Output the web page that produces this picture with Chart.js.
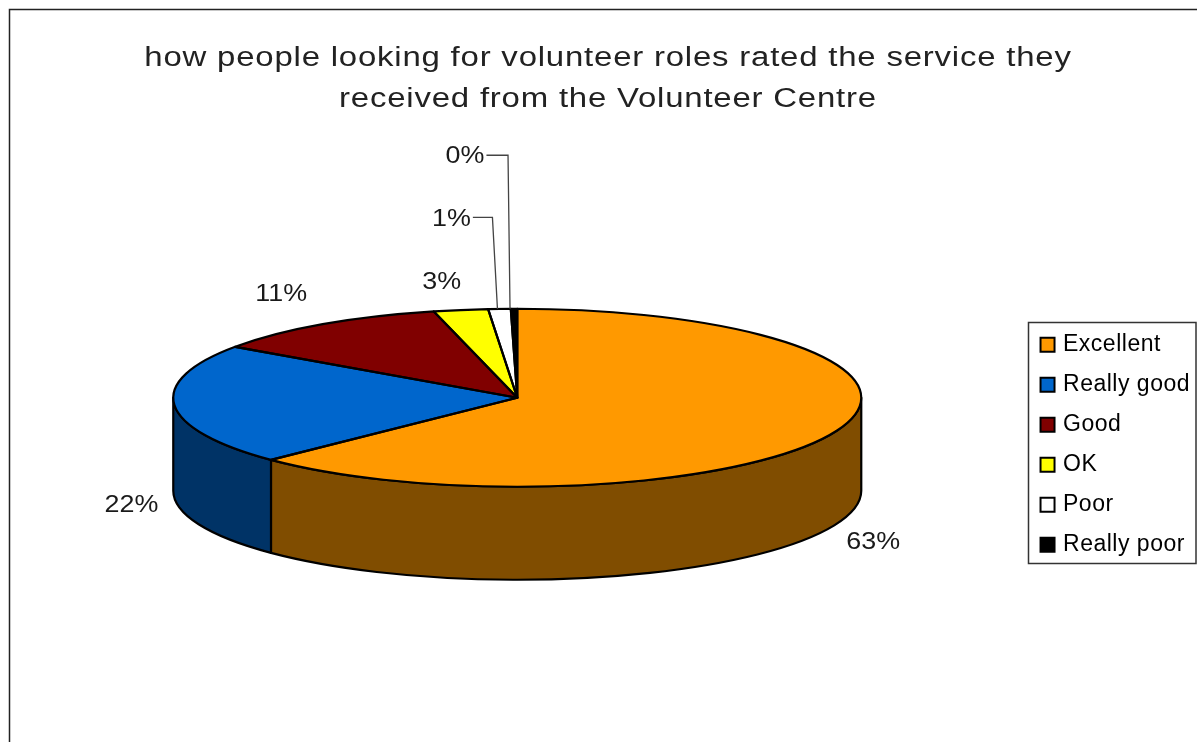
<!DOCTYPE html>
<html>
<head>
<meta charset="utf-8">
<style>
  html, body { margin: 0; background: #fff; overflow: hidden; }
  canvas { display: block; }
</style>
<script src="https://cdn.jsdelivr.net/npm/chart.js@4/dist/chart.umd.min.js"></script>
</head>
<body>
<canvas id="chart" width="1197" height="742"></canvas>
<script>
const titleLines = [
  'how people looking for volunteer roles rated the service they',
  'received from the Volunteer Centre'
];
const categories = ['Excellent', 'Really good', 'Good', 'OK', 'Poor', 'Really poor'];
const shares = [62.7, 22.0, 11.4, 2.55, 1.05, 0.3];
const topColors = ['#FF9900', '#0066CC', '#800000', '#FFFF00', '#FFFFFF', '#000000'];
const wallColors = ['#804D00', '#003366', '#400000', '#808000', '#808080', '#000000'];

// Label offsets from the rim point at the middle of each slice, in pixels.
const labelOffsets = [[39, 110], [-43, 100], [-41, -30], [-19, -28], [-48, -90], [-49, -152]];
// Slices whose labels sit far from the rim get an elbow leader: [rim dx, elbow dx].
const leaders = [null, null, null, null, [-2, -5], [-4, -2]];

const FONT = '"Liberation Sans", Arial, sans-serif';
const TILT = 0.2587;      // vertical squash of the pie disc
const DEPTH = 93;         // height of the extruded wall
const LIFT = -45;         // disc centre relative to the middle of the chart area
const OUTLINE = 2.2;
const TITLE_CENTRE = 608; // the title is centred on the full frame, which runs past the page

function discCentre(arc) {
  return { x: arc.x, y: arc.y + LIFT };
}

function rimPoint(arc, angle) {
  const c = discCentre(arc);
  return {
    x: c.x + arc.outerRadius * Math.cos(angle),
    y: c.y + arc.outerRadius * TILT * Math.sin(angle)
  };
}

// Wraps a layout box's draw so its text can have its own tracking and stretch.
function styleBoxDraw(box, apply) {
  const draw = box.draw;
  box.draw = function (area) {
    const ctx = this.ctx;
    ctx.save();
    apply(ctx, this);
    draw.call(this, area);
    ctx.restore();
  };
}

const pie3d = {
  id: 'pie3d',
  afterLayout(chart) {
    if (chart.$textStyled) return;
    chart.$textStyled = true;
    styleBoxDraw(chart.titleBlock, (ctx, box) => {
      ctx.translate(TITLE_CENTRE, 0);
      ctx.scale(1.22, 1);
      ctx.translate(-(box.left + box.right) / 2, 0);
      ctx.letterSpacing = '0.65px';
    });
    styleBoxDraw(chart.legend, ctx => {
      ctx.translate(-2.5, 2);
      ctx.letterSpacing = '0.5px';
    });
  },
  beforeDraw(chart) {
    // Outer chart frame runs off the right and bottom of the page.
    const ctx = chart.ctx;
    ctx.save();
    ctx.strokeStyle = '#222';
    ctx.lineWidth = 1.5;
    ctx.strokeRect(9.5, 9.5, chart.width + 40, chart.height + 40);
    ctx.restore();
  },
  beforeDatasetsDraw(chart) {
    const ctx = chart.ctx;
    const arcs = chart.getDatasetMeta(0).data;
    ctx.save();

    // Walls: only the part of each slice facing the viewer.
    ctx.lineWidth = OUTLINE;
    ctx.strokeStyle = '#000';
    ctx.lineJoin = 'round';
    arcs.forEach((arc, i) => {
      const a0 = Math.max(arc.startAngle, 0);
      const a1 = Math.min(arc.endAngle, Math.PI);
      if (a1 <= a0) return;
      const c = discCentre(arc);
      const rx = arc.outerRadius, ry = rx * TILT;
      ctx.beginPath();
      ctx.ellipse(c.x, c.y, rx, ry, 0, a0, a1);
      ctx.ellipse(c.x, c.y + DEPTH, rx, ry, 0, a1, a0, true);
      ctx.closePath();
      ctx.fillStyle = wallColors[i];
      ctx.fill();
      ctx.stroke();
    });

    // The library draws the slices as circles; flatten them into the disc.
    const cy = arcs[0].y;
    ctx.translate(0, cy + LIFT);
    ctx.scale(1, TILT);
    ctx.translate(0, -cy);
  },
  afterDatasetsDraw(chart) {
    const ctx = chart.ctx;
    ctx.restore();
    const arcs = chart.getDatasetMeta(0).data;
    const total = shares.reduce((a, b) => a + b, 0);

    // Slice outlines keep an even width, so they are stroked outside the squash.
    ctx.save();
    ctx.lineWidth = OUTLINE;
    ctx.strokeStyle = '#000';
    ctx.lineJoin = 'round';
    arcs.forEach(arc => {
      const c = discCentre(arc);
      ctx.beginPath();
      ctx.moveTo(c.x, c.y);
      ctx.ellipse(c.x, c.y, arc.outerRadius, arc.outerRadius * TILT, 0, arc.startAngle, arc.endAngle);
      ctx.closePath();
      ctx.stroke();
    });
    ctx.restore();

    // Percentage labels and leader lines.
    ctx.save();
    ctx.font = '24px ' + FONT;
    ctx.fillStyle = '#1a1a1a';
    ctx.textAlign = 'center';
    ctx.textBaseline = 'middle';
    arcs.forEach((arc, i) => {
      const rim = rimPoint(arc, (arc.startAngle + arc.endAngle) / 2);
      const x = rim.x + labelOffsets[i][0];
      const y = rim.y + labelOffsets[i][1];
      const text = Math.round(shares[i] / total * 100) + '%';
      ctx.save();
      ctx.translate(x, y);
      ctx.scale(1.12, 1);
      ctx.fillText(text, 0, 0);
      ctx.restore();
      if (leaders[i]) {
        const endX = rim.x + leaders[i][0];
        const halfWidth = ctx.measureText(text).width * 0.56;
        ctx.beginPath();
        ctx.moveTo(x + halfWidth + 2, y - 1.5);
        ctx.lineTo(endX + leaders[i][1], y - 1.5);
        ctx.lineTo(endX, rim.y);
        ctx.strokeStyle = '#444';
        ctx.lineWidth = 1.3;
        ctx.stroke();
      }
    });
    ctx.restore();
  },
  afterDraw(chart) {
    // Frame around the legend.
    const ctx = chart.ctx;
    const hits = chart.legend.legendHitBoxes;
    const top = hits[0].top - 9;
    const bottom = hits[hits.length - 1].top + hits[hits.length - 1].height + 9;
    ctx.save();
    ctx.strokeStyle = '#333';
    ctx.lineWidth = 1.5;
    ctx.strokeRect(1028.5, Math.round(top) + 0.5, chart.width - 1029.5, Math.round(bottom - top));
    ctx.restore();
  }
};

new Chart(document.getElementById('chart'), {
  type: 'pie',
  plugins: [pie3d],
  data: {
    labels: categories,
    datasets: [{
      data: shares,
      backgroundColor: topColors,
      borderWidth: 0,
      radius: 344,
      clip: false
    }]
  },
  options: {
    responsive: false,
    animation: false,
    events: [],
    layout: { padding: { left: 5.5 } },
    plugins: {
      tooltip: { enabled: false },
      title: {
        display: true,
        text: titleLines,
        color: '#222',
        font: { family: FONT, size: 27, weight: 'normal', lineHeight: 41 / 27 },
        padding: { top: 38, bottom: 23.5 }
      },
      legend: {
        position: 'right',
        fullSize: false,
        labels: {
          color: '#000',
          font: { family: FONT, size: 23 },
          usePointStyle: true,
          boxWidth: 8,
          boxHeight: 14,
          padding: 17,
          generateLabels(chart) {
            return categories.map((name, i) => ({
              text: name,
              fillStyle: topColors[i],
              strokeStyle: '#000',
              lineWidth: 2,
              pointStyle: 'rect',
              index: i
            }));
          }
        }
      }
    }
  }
});
</script>
</body>
</html>
